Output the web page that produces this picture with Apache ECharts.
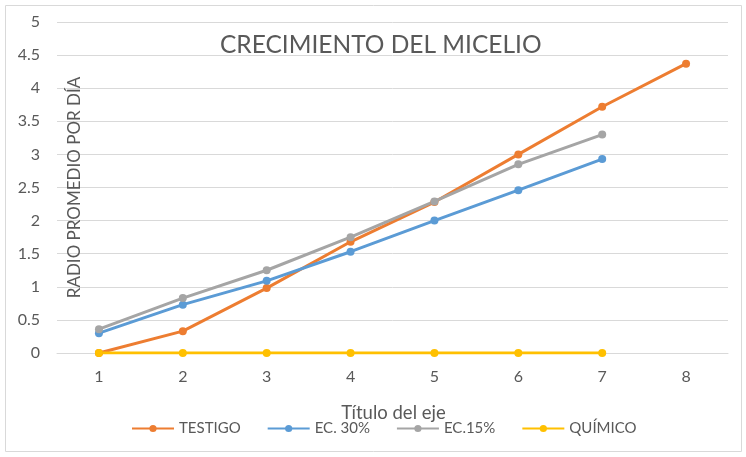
<!DOCTYPE html>
<html>
<head>
<meta charset="utf-8">
<script src="https://cdn.jsdelivr.net/npm/echarts@6/dist/echarts.min.js"></script>
<style>
  html, body { margin: 0; padding: 0; background: #fff; }
  #chart { width: 746px; height: 457px; }
</style>
</head>
<body>
<div id="chart"></div>
<script>
// datos
const dias = ['1', '2', '3', '4', '5', '6', '7', '8'];
const testigo = [0, 0.33, 0.98, 1.68, 2.28, 3.0, 3.72, 4.37];
const ec30 = [0.3, 0.73, 1.09, 1.53, 2.0, 2.46, 2.93];
const ec15 = [0.36, 0.83, 1.25, 1.75, 2.29, 2.85, 3.3];
const quimico = [0, 0, 0, 0, 0, 0, 0];

const fuente = 'Lato, "Open Sans", sans-serif';
const gris = '#595959';

var myChart = echarts.init(document.getElementById('chart'));

const serie = (name, data, color) => ({
    name: name,
    type: 'line',
    data: data,
    symbol: 'circle',
    symbolSize: 8,
    lineStyle: { width: 3, color: color },
    itemStyle: { color: color },
    animation: false
});

var option = {
    textStyle: { fontFamily: fuente },
    graphic: [{
        type: 'rect',
        shape: { x: 5.5, y: 5.5, width: 736, height: 446 },
        style: { fill: 'none', stroke: '#d9d9d9', lineWidth: 1 }
    }],
    title: {
        text: 'CRECIMIENTO DEL MICELIO',
        left: 215,
        top: 28,
        textStyle: { fontFamily: fuente, fontSize: 24.5, fontWeight: 'normal', color: gris }
    },
    legend: {
        data: ['TESTIGO', 'EC. 30%', 'EC.15%', 'QUÍMICO'],
        left: 126,
        top: 416,
        itemWidth: 42,
        itemHeight: 9,
        itemGap: 26,
        textStyle: { fontFamily: fuente, fontSize: 15, color: gris }
    },
    grid: { left: 57, right: 18, top: 22, bottom: 104, outerBoundsMode: 'none' },
    xAxis: {
        type: 'category',
        data: dias,
        boundaryGap: true,
        name: 'Título del eje',
        nameLocation: 'middle',
        nameGap: 51,
        nameTextStyle: { fontFamily: fuente, fontSize: 18.5, color: gris, padding: [0, 0, 0, 2] },
        axisLine: { lineStyle: { color: '#d9d9d9' } },
        axisTick: { show: false },
        axisLabel: { fontSize: 16, color: gris, margin: 16 }
    },
    yAxis: {
        type: 'value',
        min: 0,
        max: 5,
        interval: 0.5,
        name: 'RADIO PROMEDIO POR DÍA',
        nameLocation: 'middle',
        nameGap: -26,
        nameRotate: 90,
        nameMoveOverlap: false,
        nameTextStyle: { fontFamily: fuente, fontSize: 17, color: gris },
        axisLine: { show: false },
        axisTick: { show: false },
        axisLabel: { fontSize: 16, color: gris, margin: 17 },
        splitLine: { lineStyle: { color: '#d9d9d9' } }
    },
    series: [
        serie('TESTIGO', testigo, '#ED7D31'),
        serie('EC. 30%', ec30, '#5B9BD5'),
        serie('EC.15%', ec15, '#A5A5A5'),
        serie('QUÍMICO', quimico, '#FFC000')
    ]
};

myChart.setOption(option);
</script>
</body>
</html>
